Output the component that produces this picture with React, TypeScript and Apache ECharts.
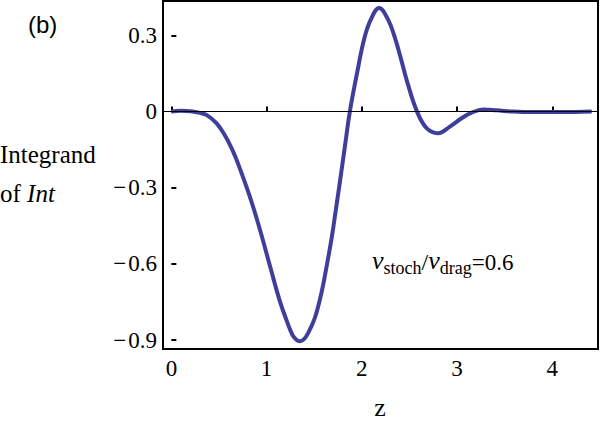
import React, { useEffect, useRef } from "react";
import * as echarts from "echarts";

const Z_VALUES = [0, 0.1, 0.2, 0.3, 0.368, 0.473, 0.56, 0.637, 0.7, 0.823, 0.928, 1.044, 1.138, 1.208, 1.271, 1.31, 1.348, 1.39, 1.436, 1.506, 1.559, 1.601, 1.681, 1.727, 1.776, 1.829, 1.874, 1.951, 2.02, 2.091, 2.182, 2.277, 2.347, 2.405, 2.478, 2.58, 2.68, 2.8, 2.925, 3.048, 3.153, 3.275, 3.416, 3.59, 3.8, 4.08, 4.414];
const INTEGRAND = [0, 0.003, 0.001, -0.005, -0.013, -0.045, -0.092, -0.148, -0.205, -0.334, -0.462, -0.62, -0.745, -0.82, -0.879, -0.897, -0.904, -0.897, -0.872, -0.813, -0.741, -0.668, -0.502, -0.387, -0.26, -0.119, 0, 0.154, 0.279, 0.36, 0.408, 0.361, 0.291, 0.216, 0.115, 0, -0.065, -0.085, -0.059, -0.026, -0.004, 0.008, 0.005, 0, -0.002, -0.002, 0];
const X_TICKS = [0, 1, 2, 3, 4];
const Y_TICKS = [-0.9, -0.6, -0.3, 0, 0.3];

const SERIF = "Liberation Serif";
const SANS = "Liberation Sans";

export default function App() {
  const ref = useRef<HTMLDivElement>(null);
  useEffect(() => {
    if (!ref.current) return;
    const chart = echarts.init(ref.current, null, { renderer: "svg" });
    const data = Z_VALUES.map((z, i) => [z, INTEGRAND[i]]);
    chart.setOption({
      animation: false,
      backgroundColor: "#fff",
      grid: { left: 163, right: 2, top: 1, bottom: 75, show: true, borderColor: "#000", borderWidth: 2 },
      xAxis: {
        type: "value",
        min: -0.088,
        max: 4.48,
        axisLine: { show: false },
        splitLine: { show: false },
        axisTick: { show: true, inside: true, length: 5, customValues: X_TICKS, lineStyle: { color: "#000", width: 2 } },
        axisLabel: { customValues: X_TICKS, fontFamily: SERIF, fontSize: 23, color: "#000", margin: 8 },
      },
      yAxis: {
        type: "value",
        min: -0.9347,
        max: 0.4355,
        axisLine: { show: false },
        splitLine: { show: false },
        axisTick: { show: true, inside: true, length: 5, customValues: Y_TICKS, lineStyle: { color: "#000", width: 2 } },
        axisLabel: {
          customValues: Y_TICKS,
          fontFamily: SERIF,
          fontSize: 23,
          color: "#000",
          margin: 6,
          formatter: (v: number) => (Math.abs(v) < 1e-9 ? "0" : v < 0 ? "\u2212\u200a" + Math.abs(v).toFixed(1) : v.toFixed(1)),
        },
      },
      series: [
        {
          type: "line",
          data,
          showSymbol: false,
          smooth: 0.4,
          lineStyle: { color: "#3f3f9b", width: 4 },
          markLine: {
            silent: true,
            symbol: "none",
            label: { show: false },
            lineStyle: { color: "#000", width: 1, type: "solid" },
            data: [{ yAxis: 0 }],
          },
        },
      ],
      graphic: [
        { type: "text", x: 28, y: 24, style: { text: "(b)", fontFamily: SANS, fontSize: 24, fill: "#000", verticalAlign: "middle" } },
        {
          type: "text",
          x: 0,
          y: 154,
          style: { text: "Integrand", fontFamily: SERIF, fontSize: 25, fill: "#000", verticalAlign: "middle" },
        },
        {
          type: "text",
          x: 0,
          y: 193,
          style: {
            text: "{r|of }{i|Int}",
            verticalAlign: "middle",
            rich: {
              r: { fontFamily: SERIF, fontSize: 25, fill: "#000" },
              i: { fontFamily: SERIF, fontSize: 25, fontStyle: "italic", fill: "#000" },
            },
          },
        },
        {
          type: "text",
          x: 380,
          y: 407,
          style: { text: "z", fontFamily: SERIF, fontSize: 26, fill: "#000", align: "center", verticalAlign: "middle" },
        },
        {
          type: "text",
          x: 372,
          y: 262,
          style: {
            text: "{nu|\u03bd}{sub|stoch}{sl|/}{nu|\u03bd}{sub|drag}{n|=0.6}",
            verticalAlign: "middle",
            rich: {
              nu: { fontFamily: SERIF, fontSize: 26, fontStyle: "italic", fill: "#000", verticalAlign: "bottom", padding: [0, 0, 3, 0] },
              sub: { fontFamily: SERIF, fontSize: 18, fill: "#000", verticalAlign: "bottom" },
              sl: { fontFamily: SERIF, fontSize: 24, fill: "#000", verticalAlign: "bottom", padding: [0, 0, 3, 0] },
              n: { fontFamily: SERIF, fontSize: 23, fill: "#000", verticalAlign: "bottom", padding: [0, 0, 3, 0] },
            },
          },
        },
      ],
    });
    return () => chart.dispose();
  }, []);
  return <div ref={ref} style={{ position: "fixed", left: 0, top: 0, width: 600, height: 424 }} />;
}
